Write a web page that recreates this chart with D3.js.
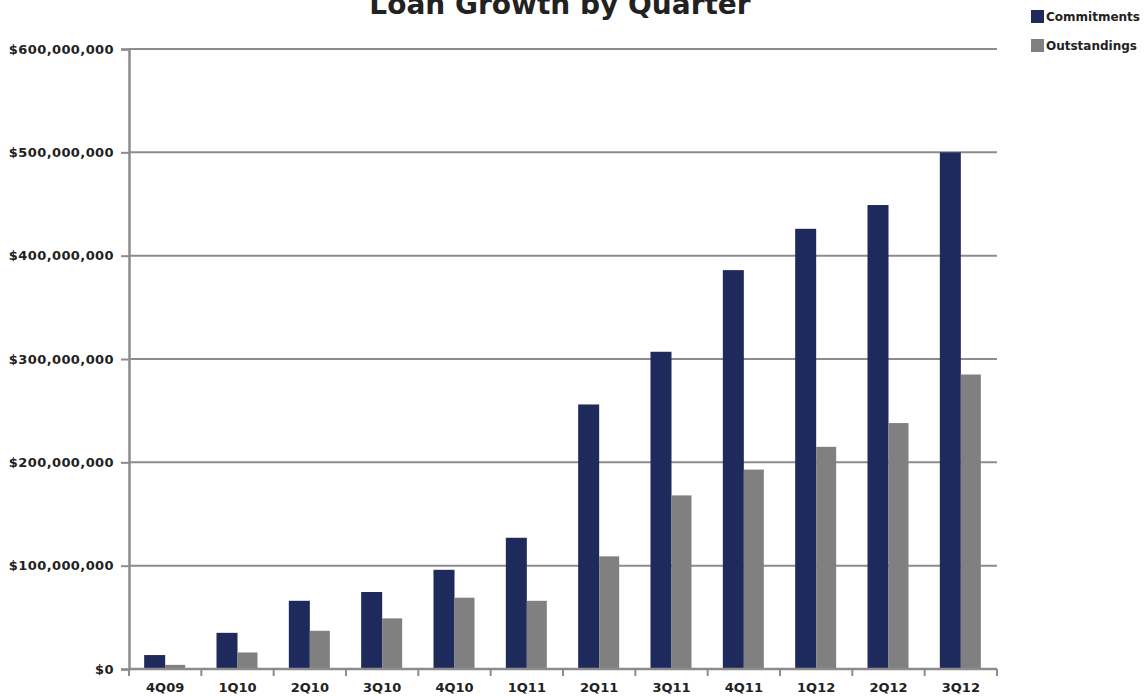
<!DOCTYPE html>
<html lang="en">
<head>
<meta charset="utf-8">
<title>Loan Growth by Quarter</title>
<script src="https://cdn.jsdelivr.net/npm/d3@7"></script>
<style>
  body { margin: 0; background: #fff; }
  text { font-family: "DejaVu Sans", sans-serif; fill: #222; }
</style>
</head>
<body>
<script>
// data
var quarters = ["4Q09","1Q10","2Q10","3Q10","4Q10","1Q11","2Q11","3Q11","4Q11","1Q12","2Q12","3Q12"];
var commitments  = [13.5, 35, 66, 74.5, 96, 127, 256, 307, 386, 426, 449, 500];
var outstandings = [4, 16, 37, 49, 69, 66, 109, 168, 193, 215, 238, 285];
var seriesNames = ["Commitments", "Outstandings"];
var yTicks = [0, 100, 200, 300, 400, 500, 600];

var w = 1147, h = 697;
// plot edges (note: "top" is reserved on window, so use plot* names)
var plotL = 129, plotR = 997, plotT = 49, plotB = 669;
var colors = ["#1f2a5c", "#808080"];

var svg = d3.select("body").append("svg")
  .attr("width", w).attr("height", h);

var x = d3.scaleBand().domain(quarters).range([plotL, plotR]).paddingInner(0).paddingOuter(0);
var y = d3.scaleLinear().domain([0, 600]).range([plotB, plotT]);

// gridlines
svg.selectAll("line.grid")
  .data(yTicks.slice(1))
  .enter().append("line")
  .attr("class", "grid")
  .attr("x1", plotL).attr("x2", plotR)
  .attr("y1", function(d){ return y(d); })
  .attr("y2", function(d){ return y(d); })
  .attr("stroke", "#8c8c8c")
  .attr("stroke-width", 2);

// bars
var barW = 21;
var groups = svg.selectAll("g.q")
  .data(quarters)
  .enter().append("g")
  .attr("transform", function(d){ return "translate(" + (x(d) + x.bandwidth()/2 - barW) + ",0)"; });

groups.append("rect")
  .attr("x", 0)
  .attr("y", function(d, i){ return y(commitments[i]); })
  .attr("width", barW)
  .attr("height", function(d, i){ return plotB - y(commitments[i]); })
  .attr("fill", colors[0]);

groups.append("rect")
  .attr("x", barW)
  .attr("y", function(d, i){ return y(outstandings[i]); })
  .attr("width", barW - 1)
  .attr("height", function(d, i){ return plotB - y(outstandings[i]); })
  .attr("fill", colors[1]);

// y axis
var fmt = function(d){ return "$" + d3.format(",")(d * 1000000); };
var yAxis = svg.append("g")
  .attr("transform", "translate(" + plotL + ",0)")
  .call(d3.axisLeft(y).tickValues(yTicks).tickFormat(fmt).tickSize(8).tickPadding(7));
yAxis.select(".domain").attr("stroke", "#8c8c8c").attr("stroke-width", 2.5);
yAxis.selectAll(".tick line").attr("stroke", "#8c8c8c").attr("stroke-width", 2);
yAxis.selectAll("text")
  .style("font-family", "'DejaVu Sans', sans-serif")
  .style("font-size", "13px")
  .style("font-weight", "bold")
  .style("letter-spacing", "0.4px")
  .attr("fill", "#222");

// x axis
var xAxis = svg.append("g")
  .attr("transform", "translate(0," + plotB + ")")
  .call(d3.axisBottom(x).tickSize(0).tickPadding(14));
xAxis.select(".domain").remove();
xAxis.append("line")
  .attr("x1", plotL).attr("x2", plotR)
  .attr("stroke", "#8c8c8c").attr("stroke-width", 2.5);
xAxis.selectAll("line.xt")
  .data(quarters.concat(["end"]))
  .enter().append("line")
  .attr("class", "xt")
  .attr("x1", function(d, i){ return plotL + i * x.bandwidth(); })
  .attr("x2", function(d, i){ return plotL + i * x.bandwidth(); })
  .attr("y1", 0).attr("y2", 7)
  .attr("stroke", "#8c8c8c").attr("stroke-width", 2);
xAxis.selectAll("text")
  .style("font-family", "'DejaVu Sans', sans-serif")
  .style("font-size", "13px")
  .style("font-weight", "bold")
  .attr("fill", "#222");

// title (top is clipped in the reference too)
svg.append("text")
  .attr("x", 560).attr("y", 14)
  .attr("text-anchor", "middle")
  .style("font-size", "28px")
  .style("font-weight", "bold")
  .text("Loan Growth by Quarter");

// legend
var legend = svg.selectAll("g.leg")
  .data(seriesNames)
  .enter().append("g")
  .attr("transform", function(d, i){ return "translate(1031," + (10 + i * 29) + ")"; });
legend.append("rect")
  .attr("width", 13).attr("height", 13)
  .attr("fill", function(d, i){ return colors[i]; });
legend.append("text")
  .attr("x", 15).attr("y", 11)
  .style("font-size", "12px")
  .style("font-weight", "bold")
  .text(function(d){ return d; });
</script>
</body>
</html>
